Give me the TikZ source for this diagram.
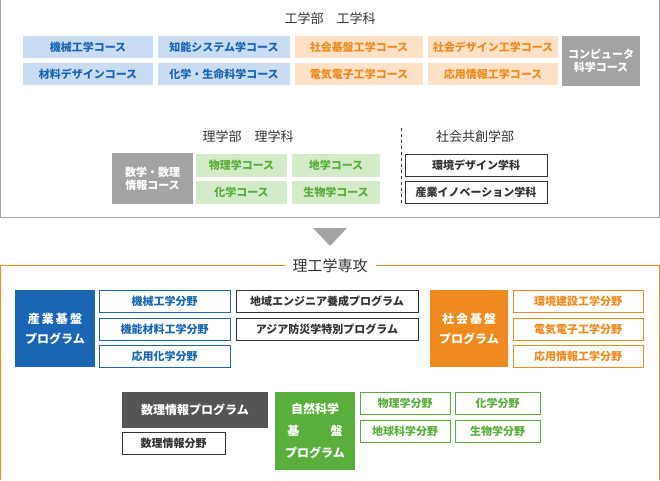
\documentclass[tikz,border=0pt]{standalone}
\usepackage{fontspec}
\setmainfont{Noto Sans CJK JP}
\definecolor{cblue}{HTML}{1A66B5}
\definecolor{lblue}{HTML}{C9DCF1}
\definecolor{corange}{HTML}{EE8A1E}
\definecolor{lorange}{HTML}{FCE1C6}
\definecolor{cgreen}{HTML}{5AAE3C}
\definecolor{lgreen}{HTML}{D3EBC9}
\definecolor{cgray}{HTML}{A3A3A3}
\definecolor{dgray}{HTML}{555555}
\definecolor{tgray}{HTML}{333333}
\begin{document}
\begin{tikzpicture}[x=1pt,y=-1pt,
 every node/.style={font=\fontsize{11}{13}\selectfont\bfseries, inner sep=0pt, align=center},
 bx/.style 2 args={minimum width=#1, minimum height=#2},
 lb/.style={fill=lblue, text=cblue},
 lo/.style={fill=lorange, text=corange},
 lg/.style={fill=lgreen, text=cgreen},
 gr/.style={fill=cgray, text=white},
 wb/.style={draw=tgray, line width=1pt, fill=white, text=tgray},
 bb/.style={draw=cblue, line width=1pt, fill=white, text=cblue},
 ob/.style={draw=corange, line width=1pt, fill=white, text=corange},
 gb/.style={draw=cgreen, line width=1pt, fill=white, text=cgreen},
 hd/.style={font=\fontsize{13}{15}\selectfont, text=tgray}]
\useasboundingbox (0,0) rectangle (660,480);
\draw[cgray, line width=1pt] (0.5,0) -- (0.5,217) -- (659.5,217) -- (659.5,0);
\node[hd] (t1) at (330,19) {工学部\quad 工学科};
\node[lb, bx={130}{22}] (a1) at (88,47) {機械工学コース};
\node[lb, bx={130}{22}] (a2) at (88,74) {材料デザインコース};
\node[lb, bx={132}{22}] (b1) at (224,47) {知能システム学コース};
\node[lb, bx={132}{22}] (b2) at (224,74) {化学・生命科学コース};
\node[lo, bx={128}{22}] (c1) at (359,47) {社会基盤工学コース};
\node[lo, bx={128}{22}] (c2) at (359,74) {電気電子工学コース};
\node[lo, bx={130}{22}] (d1) at (493,47) {社会デザイン工学コース};
\node[lo, bx={130}{22}] (d2) at (493,74) {応用情報工学コース};
\node[gr, bx={78}{50}] (e) at (601,61) {コンピュータ\\科学コース};
\node[hd] (t2) at (248,137) {理学部\quad 理学科};
\node[hd] (t3) at (475,137) {社会共創学部};
\coordinate (dl1) at (401,128); \coordinate (dl2) at (401,206);
\draw[tgray, dashed, line width=0.6pt] (dl1) -- (dl2);
\node[gr, bx={81}{51}] (f) at (152.5,178.5) {数学・数理\\情報コース};
\node[lg, bx={91}{23}] (g1) at (241.5,165.5) {物理学コース};
\node[lg, bx={91}{23}] (g2) at (241.5,192.5) {化学コース};
\node[lg, bx={88}{23}] (h1) at (336,165.5) {地学コース};
\node[lg, bx={88}{23}] (h2) at (336,192.5) {生物学コース};
\node[wb, bx={142}{22}] (i1) at (476,165) {環境デザイン学科};
\node[wb, bx={142}{22}] (i2) at (476,192) {産業イノベーション学科};
\node[fill=cgray, minimum size=0pt] (tri) at (330,236) {};
\fill[cgray] (313,228) -- (347,228) -- (330,246) -- cycle;
\draw[corange, line width=1pt] (0.5,480) -- (0.5,265.5) -- (659.5,265.5) -- (659.5,480);
\node[hd, fill=white, inner xsep=8pt, font=\fontsize{15}{17}\selectfont] (t4) at (330,266) {理工学専攻};
\node[fill=cblue, text=white, bx={80}{77}, font=\fontsize{12}{20}\selectfont\bfseries] (p1) at (55,328.5) {産\,業\,基\,盤\\プログラム};
\node[bb, bx={131}{22}] (p1a) at (164.5,301) {機械工学分野};
\node[bb, bx={131}{22}] (p1b) at (164.5,329) {機能材料工学分野};
\node[bb, bx={131}{22}] (p1c) at (164.5,356) {応用化学分野};
\node[wb, bx={182}{22}] (q1) at (327,301) {地域エンジニア養成プログラム};
\node[wb, bx={182}{22}] (q2) at (327,329) {アジア防災学特別プログラム};
\node[fill=corange, text=white, bx={78}{77}, font=\fontsize{12}{20}\selectfont\bfseries] (p2) at (469,328.5) {社\,会\,基\,盤\\プログラム};
\node[ob, bx={130}{22}] (p2a) at (578,301) {環境建設工学分野};
\node[ob, bx={130}{22}] (p2b) at (578,329) {電気電子工学分野};
\node[ob, bx={130}{22}] (p2c) at (578,356) {応用情報工学分野};
\node[fill=dgray, text=white, bx={146}{36}, font=\fontsize{12}{14}\selectfont\bfseries] (p3) at (195,410) {数理情報プログラム};
\node[wb, bx={103}{22}] (p3a) at (173.5,443.5) {数理情報分野};
\node[fill=cgreen, text=white, bx={80}{78}, font=\fontsize{12}{22}\selectfont\bfseries] (p4) at (315,431) {自然科学\\基\hspace{2.6em}盤\\プログラム};
\node[gb, bx={90}{22}] (r1) at (405,403.5) {物理学分野};
\node[gb, bx={85}{22}] (r2) at (497.5,403.5) {化学分野};
\node[gb, bx={90}{22}] (r3) at (405,431.5) {地球科学分野};
\node[gb, bx={85}{22}] (r4) at (497.5,431.5) {生物学分野};
\end{tikzpicture}
\end{document}
